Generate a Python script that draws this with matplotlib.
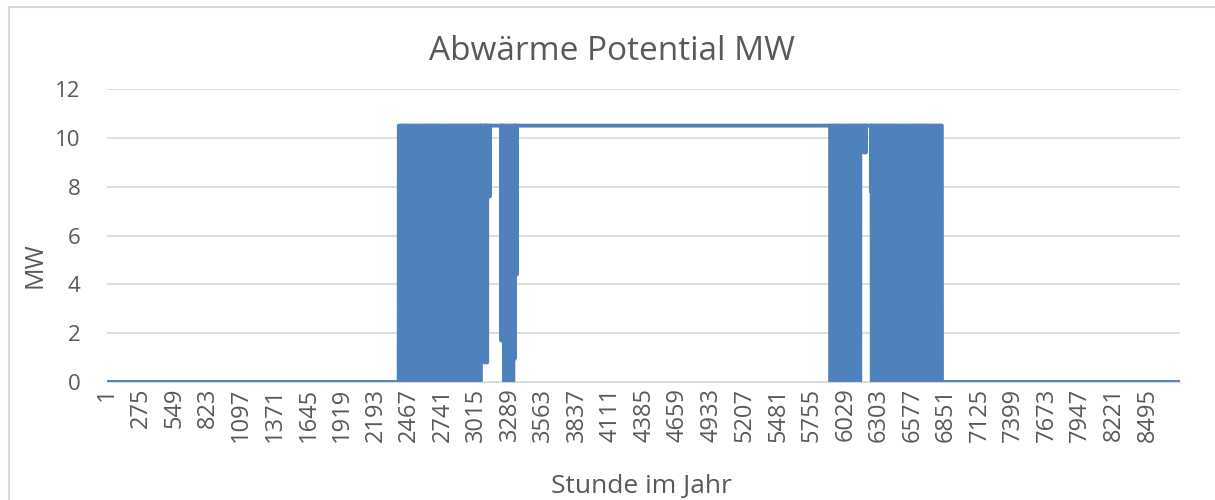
import matplotlib.pyplot as plt
import numpy as np

# Stunden des Jahres (Excel-Kategorien 1..8760)
n_hours = 8760
tick_step = 274
level_on = 10.5

# Abschnitte: (erste Stunde, letzte Stunde, Zustand)
segments = [
    (1, 2376, "aus"),
    (2377, 3050, "takt"),
    (3051, 3232, "an"),
    (3233, 3322, "takt"),
    (3323, 5895, "an"),
    (5896, 6166, "takt"),
    (6167, 6243, "an"),
    (6244, 6820, "takt"),
    (6821, 8760, "aus"),
]

# Tagesprofil im Taktbetrieb (MW je Stunde des Tages)
daily_profile = [0, 0, 0, 0, 0, 0,
                 10.5, 10.5, 10.5, 10.5, 10.5, 10.5,
                 10.5, 10.5, 10.5, 10.5, 10.5, 10.5,
                 10.5, 10.5, 10.5, 10.5, 10.5, 10.5]

# Einzelne Einbrüche (Stunde, MW)
dip_hours = [3055, 3080, 3092, 3104, 3125, 3220, 3228, 3328, 3345, 6180, 6195, 6238]
dip_values = [2.4, 0.8, 0.8, 0.8, 7.6, 1.7, 1.7, 0.95, 4.4, 9.4, 9.4, 7.8]

hours = np.arange(1, n_hours + 1)
values = np.zeros(n_hours)
for start, end, state in segments:
    idx = (hours >= start) & (hours <= end)
    if state == "an":
        values[idx] = level_on
    elif state == "takt":
        values[idx] = np.array(daily_profile)[(hours[idx] - 1) % 24]
for h, v in zip(dip_hours, dip_values):
    values[h - 1] = v

blue = "#4F81BD"
grey_text = "#595959"
grid_col = "#D9D9D9"
font = "Open Sans"

fig = plt.figure(figsize=(12.15, 5), dpi=100)
ax = fig.add_axes([107 / 1215, 118 / 500, 1073 / 1215, 293 / 500])

ax.plot(hours, values, color=blue, linewidth=2.8, solid_joinstyle="round")

ax.set_xlim(0.5, n_hours + 0.5)
ax.set_ylim(0, 12)
ax.set_yticks(np.arange(0, 13, 2))
ax.set_xticks(np.arange(1, n_hours + 1, tick_step))
ax.tick_params(axis="x", length=0, pad=4, labelrotation=90, labelsize=17,
               labelcolor=grey_text)
ax.tick_params(axis="y", length=0, pad=19, labelsize=16, labelcolor=grey_text)
for lab in ax.get_xticklabels() + ax.get_yticklabels():
    lab.set_family(font)

ax.grid(axis="y", color=grid_col, linewidth=1.2)
ax.set_axisbelow(True)
for side in ["top", "right", "left"]:
    ax.spines[side].set_visible(False)
ax.spines["bottom"].set_color(grid_col)

fig.text(612 / 1215, 1 - 52 / 500, "Abwärme Potential MW", ha="center", va="center",
         fontsize=24, color=grey_text, family=font)
fig.text(35 / 1215, 1 - 265 / 500, "MW", ha="center", va="center", rotation=90,
         fontsize=18, color=grey_text, family=font)
fig.text(641 / 1215, 1 - 487 / 500, "Stunde im Jahr", ha="center", va="center",
         fontsize=19, color=grey_text, family=font)

# Rahmen des Diagrammbereichs (links und oben sichtbar)
fig.add_artist(plt.Line2D([9 / 1215, 9 / 1215], [0, 1 - 7 / 500],
                          transform=fig.transFigure, color=grid_col, linewidth=1.5))
fig.add_artist(plt.Line2D([9 / 1215, 1], [1 - 7 / 500, 1 - 7 / 500],
                          transform=fig.transFigure, color=grid_col, linewidth=1.5))

fig.savefig("out.png", dpi=100)
